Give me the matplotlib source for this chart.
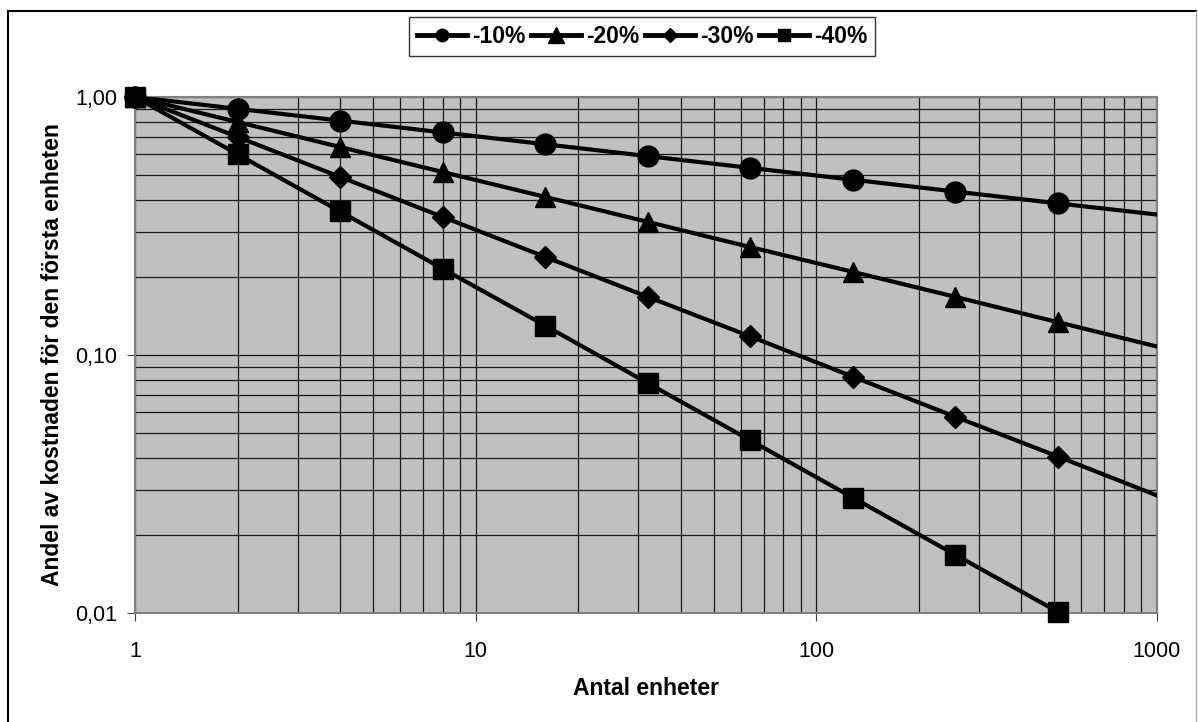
import matplotlib.pyplot as plt
from matplotlib.lines import Line2D
from matplotlib.ticker import FixedLocator, NullFormatter

plt.rcParams['font.family'] = ['Liberation Sans', 'DejaVu Sans']

# units produced (doublings), last point lies just past the axis end
units = [1, 2, 4, 8, 16, 32, 64, 128, 256, 512, 1024]
share_10 = [1.00, 0.90, 0.81, 0.729, 0.656, 0.590, 0.531, 0.478, 0.430, 0.387, 0.349]
share_20 = [1.00, 0.80, 0.64, 0.512, 0.410, 0.328, 0.262, 0.210, 0.168, 0.134, 0.107]
share_30 = [1.00, 0.70, 0.49, 0.343, 0.240, 0.168, 0.118, 0.0824, 0.0576, 0.0404, 0.0282]
share_40 = [1.00, 0.60, 0.36, 0.216, 0.130, 0.0778, 0.0467, 0.0280, 0.0168, 0.0101, 0.0060]
labels = ['-10%', '-20%', '-30%', '-40%']
markers = ['o', '^', 'D', 's']
sizes = [15, 15, 11, 14]
leg_sizes = [9, 11, 7.5, 8.5]

fig = plt.figure(figsize=(11.98, 7.22), dpi=100)
# outer chart frame (bottom edge lies outside the image)
fig.add_artist(Line2D([8 / 1198, 8 / 1198], [0, 1 - 11 / 722], color='black', lw=1.5,
                      transform=fig.transFigure))
fig.add_artist(Line2D([8 / 1198, 1196 / 1198], [1 - 11 / 722, 1 - 11 / 722], color='black',
                      lw=1.5, transform=fig.transFigure))
fig.add_artist(Line2D([1196 / 1198, 1196 / 1198], [0, 1 - 11 / 722], color='#b0b0b0', lw=1,
                      transform=fig.transFigure))

ax = fig.add_axes([135 / 1198, 1 - 613 / 722, 1022 / 1198, 516 / 722])
ax.set_facecolor('#c0c0c0')
ax.set_xscale('log')
ax.set_yscale('log')
ax.set_xlim(1, 1000)
ax.set_ylim(0.01, 1.0)

# gridlines, major and minor
ax.grid(True, which='both', color='#1a1a1a', lw=0.9)
ax.set_axisbelow(True)
for s in ax.spines.values():
    s.set_color('#808080')
    s.set_linewidth(1.5)

ax.xaxis.set_major_locator(FixedLocator([1, 10, 100, 1000]))
ax.set_xticklabels(['1', '10', '100', '1000'])
ax.yaxis.set_major_locator(FixedLocator([0.01, 0.1, 1.0]))
ax.set_yticklabels(['0,01', '0,10', '1,00'])
ax.xaxis.set_minor_formatter(NullFormatter())
ax.yaxis.set_minor_formatter(NullFormatter())
ax.tick_params(which='major', labelsize=15.5)
ax.tick_params(axis='y', which='major', length=6, direction='out', color='#404040', pad=7)
ax.tick_params(axis='x', which='major', length=6, direction='out', color='#404040', pad=14)
ax.tick_params(which='minor', length=0)

series = [share_10, share_20, share_30, share_40]
for vals, lab, m, ms, lms in zip(series, labels, markers, sizes, leg_sizes):
    ax.plot(units, vals, color='black', lw=3, zorder=3)
    ax.plot(units[:-1], vals[:-1], linestyle='none', marker=m, markersize=ms,
            color='black', clip_on=False, zorder=4)
    ax.plot([], [], color='black', lw=3.5, marker=m, markersize=lms, label=lab)

ax.set_xlabel('Antal enheter', fontsize=16.5, fontweight='bold', labelpad=11)
ax.set_ylabel('Andel av kostnaden för den första enheten', fontsize=16.5,
              fontweight='bold', labelpad=8)

leg = fig.legend(loc='center', bbox_to_anchor=(642 / 1198, 1 - 36.5 / 722), ncol=4,
                 frameon=True, fancybox=False, edgecolor='black',
                 prop={'weight': 'bold', 'size': 16.5}, handlelength=2.2,
                 handletextpad=0.2, columnspacing=0.25, borderpad=0.35)
leg.get_frame().set_linewidth(1)

fig.savefig('out.png', dpi=100)
